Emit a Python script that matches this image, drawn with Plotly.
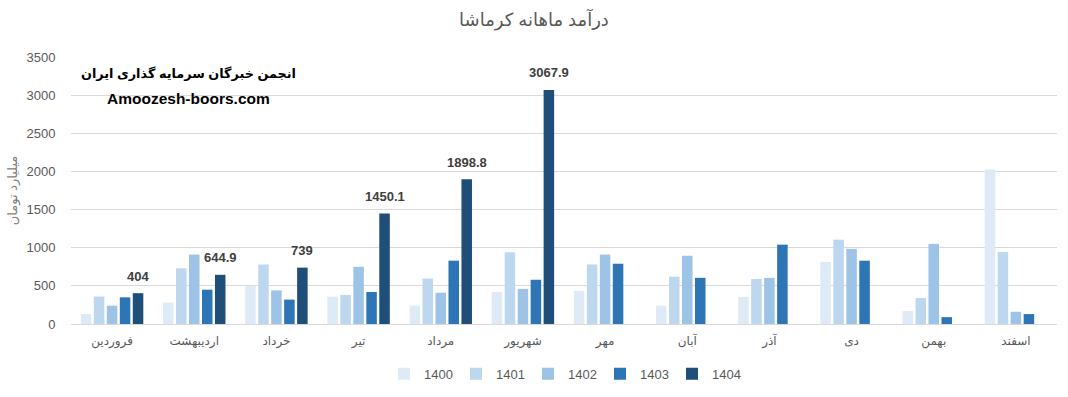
import plotly.graph_objects as go

months = ["فروردین", "اردیبهشت", "خرداد", "تیر", "مرداد", "شهریور",
          "مهر", "آبان", "آذر", "دی", "بهمن", "اسفند"]
years = ["1400", "1401", "1402", "1403", "1404"]

v1400 = [130, 280, 500, 360, 240, 420, 435, 240, 355, 815, 170, 2025]
v1401 = [360, 730, 780, 380, 595, 940, 780, 620, 590, 1105, 340, 945]
v1402 = [240, 910, 440, 750, 410, 460, 910, 895, 605, 985, 1050, 160]
v1403 = [350, 450, 320, 420, 830, 580, 790, 605, 1040, 830, 90, 130]
v1404 = [404, 644.9, 739, 1450.1, 1898.8, 3067.9, None, None, None, None, None, None]

series = [v1400, v1401, v1402, v1403, v1404]
colors = ["#DEEBF7", "#BDD7EE", "#9DC3E6", "#2E75B6", "#1F4E79"]

title_text = "درآمد ماهانه کرماشا"
y_title = "میلیارد تومان"
wm1 = "انجمن خبرگان سرمایه گذاری ایران"
wm2 = "Amoozesh-boors.com"

FONT = "Liberation Sans, Arial, DejaVu Sans"

fig = go.Figure()
for name, vals, col in zip(years, series, colors):
    fig.add_trace(go.Bar(x=months, y=vals, name=name, marker_color=col,
                         marker_line_width=0))

# data labels for 1404
for m, v in zip(months, v1404):
    if v is not None:
        fig.add_annotation(x=m, y=v, text="<b>%s</b>" % (("%g" % v)),
                           showarrow=False, xshift=26, yshift=17,
                           font=dict(size=13, color="#404040", family=FONT))

fig.add_annotation(xref="paper", yref="paper", x=0.119, xanchor="center",
                   y=0.94, yanchor="middle",
                   text="<b>" + wm1 + "</b>", showarrow=False,
                   font=dict(size=12.8, color="#000000", family=FONT))
fig.add_annotation(xref="paper", yref="paper", x=0.119, xanchor="center",
                   y=0.843, yanchor="middle",
                   text="<b>" + wm2 + "</b>", showarrow=False,
                   font=dict(size=15.5, color="#000000", family=FONT))

fig.update_layout(
    width=1068, height=397,
    paper_bgcolor="white", plot_bgcolor="white",
    margin=dict(l=71, r=11, t=57, b=73, autoexpand=False),
    barmode="group", bargap=0.21, bargroupgap=0.19,
    title=dict(text=title_text, x=0.5, xanchor="center", y=0.95, yanchor="middle",
               font=dict(size=18, color="#595959", family=FONT)),
    font=dict(family=FONT, color="#595959", size=12),
    legend=dict(orientation="h", x=0.5, xanchor="center", y=-0.13, yanchor="top",
                font=dict(size=13, color="#595959"), itemwidth=30,
                entrywidth=27, entrywidthmode="pixels",
                traceorder="normal"),
    xaxis=dict(showgrid=False, showline=True, linecolor="#d9d9d9", linewidth=1,
               automargin=False,
               tickfont=dict(size=12, color="#595959"), ticks="outside",
               ticklen=6, tickcolor="rgba(0,0,0,0)"),
    yaxis=dict(range=[0, 3500], dtick=500, showgrid=True, gridcolor="#d9d9d9",
               zeroline=False, showline=False, automargin=False,
               tickfont=dict(size=13, color="#595959"), ticks="outside",
               ticklen=12, tickcolor="rgba(0,0,0,0)",
               title=dict(text=y_title, font=dict(size=13, color="#7f7f7f"),
                          standoff=5)),
)

fig.write_html("out.html", config={"displayModeBar": False},
               post_script="document.body.style.margin='0';document.body.style.overflow='hidden';")
